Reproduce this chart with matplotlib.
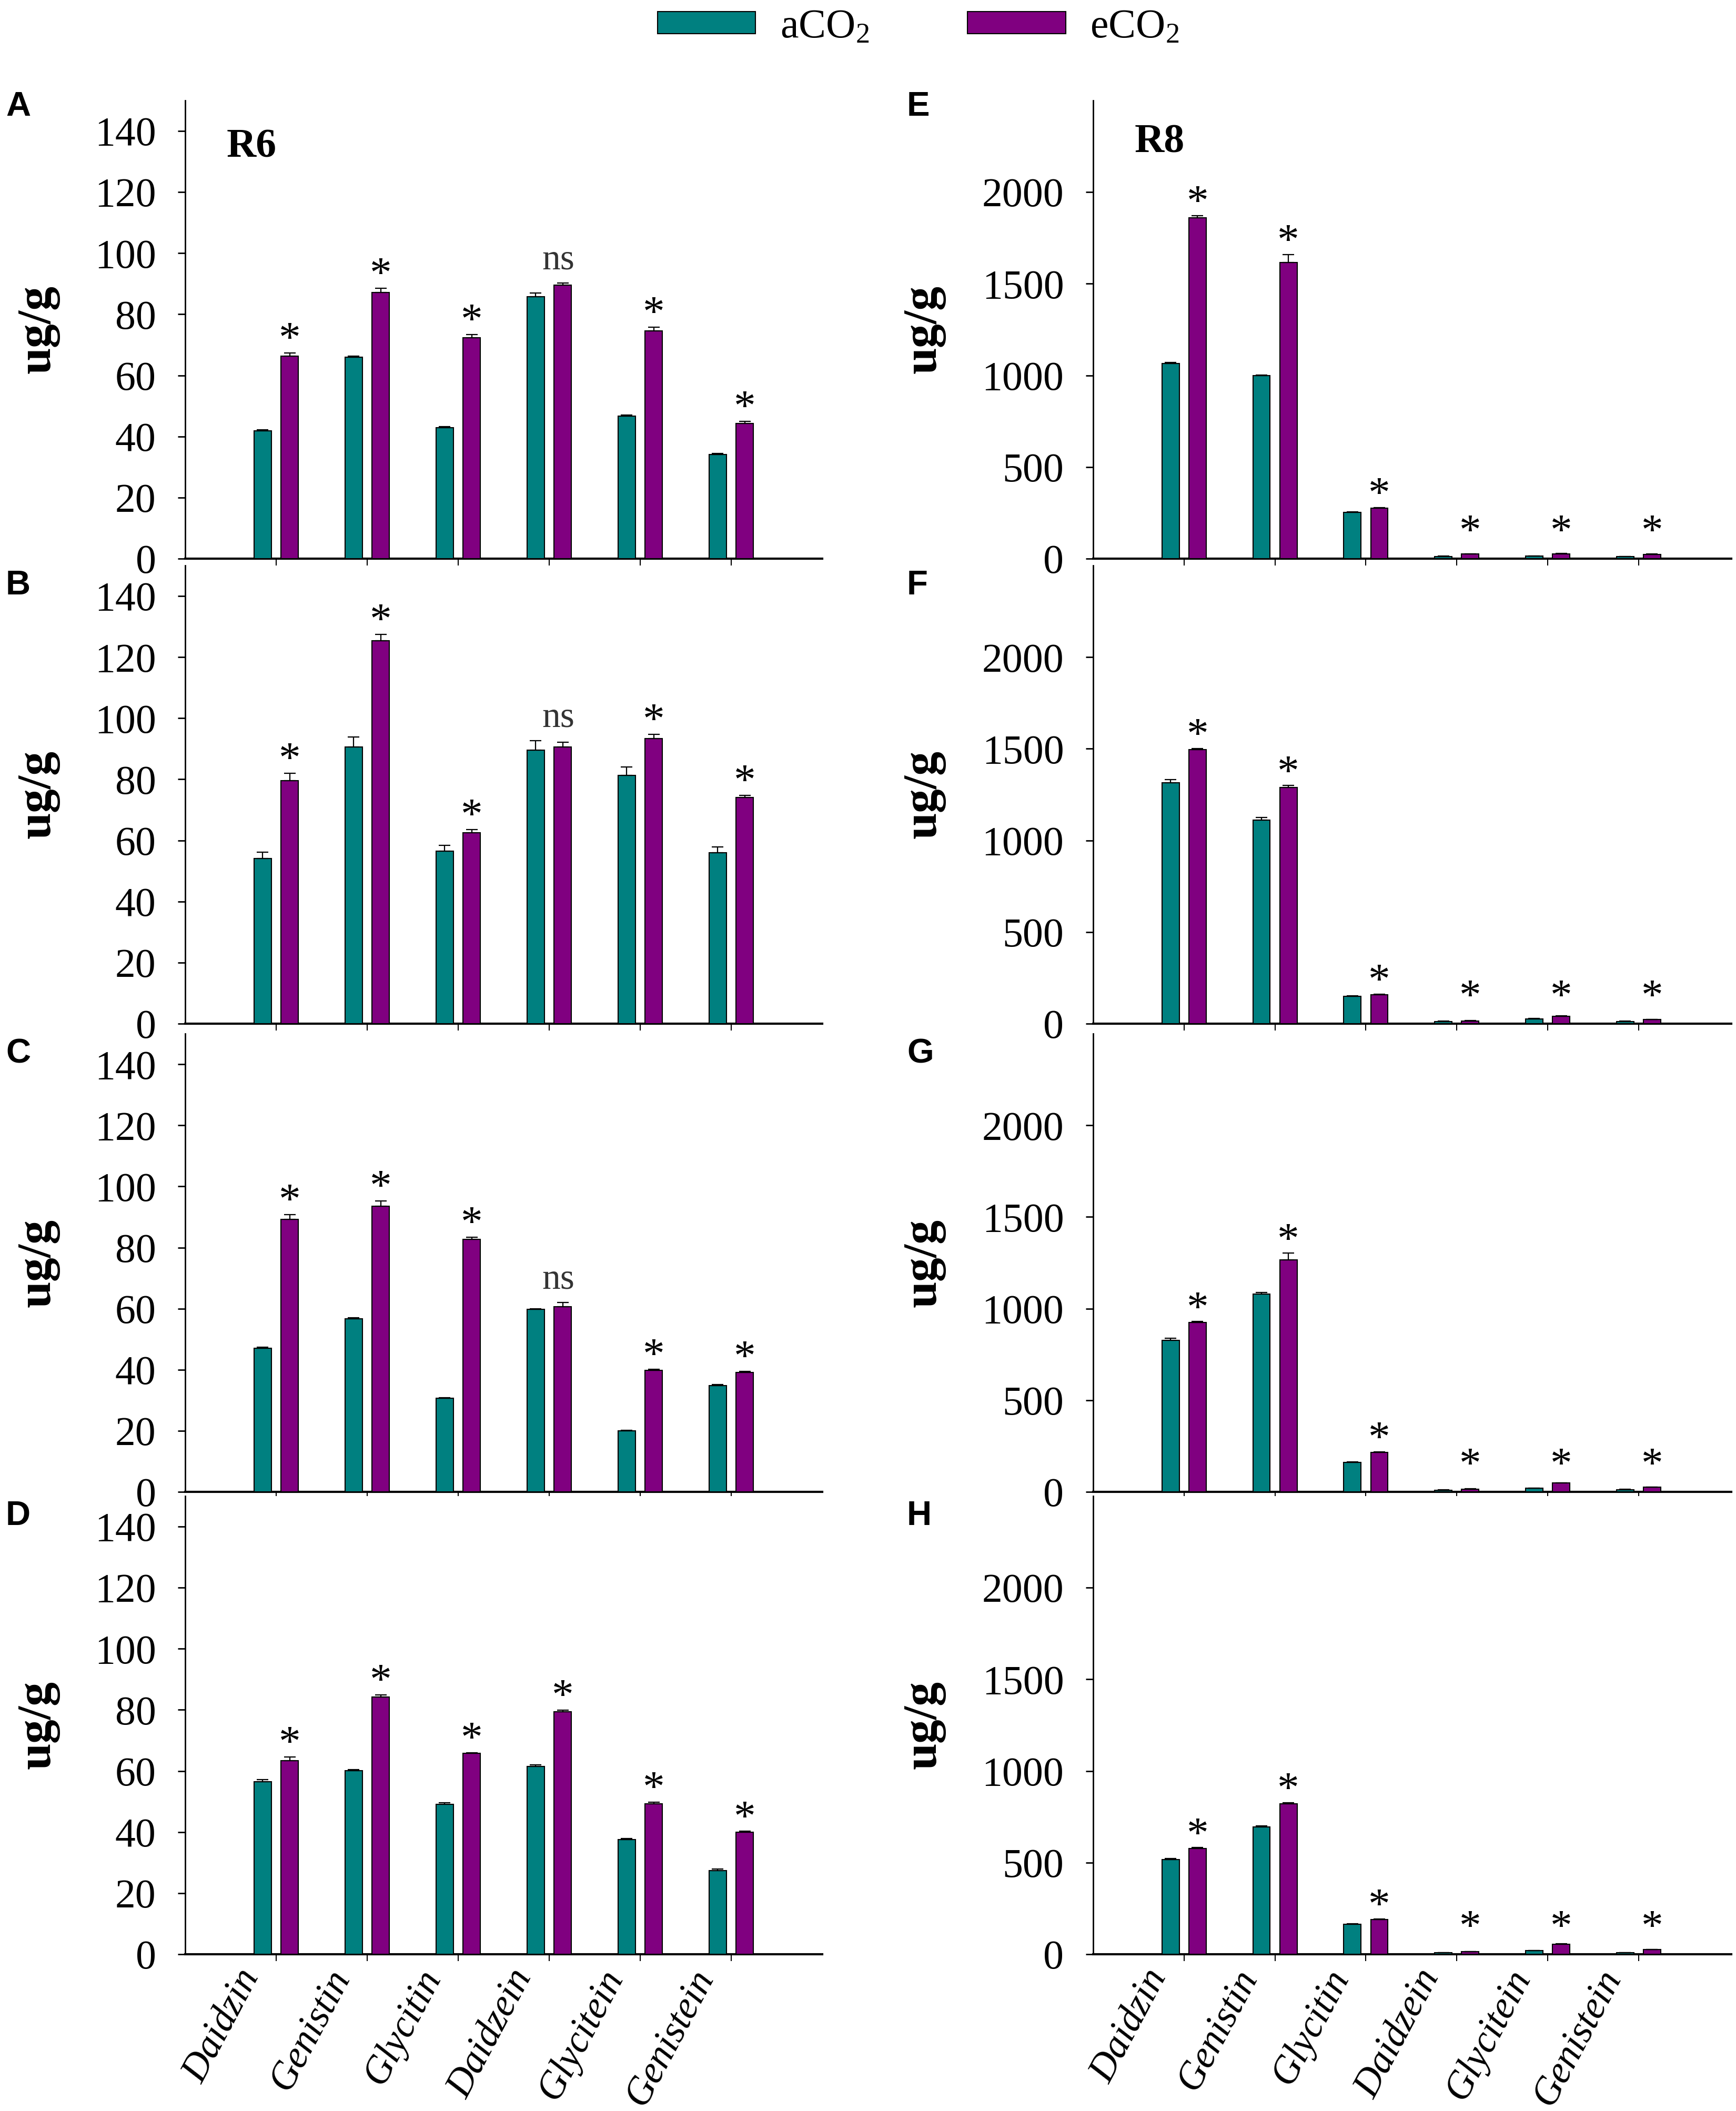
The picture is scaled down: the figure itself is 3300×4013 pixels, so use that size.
import numpy as np
import matplotlib
matplotlib.use('Agg')
import matplotlib.pyplot as plt
from matplotlib.transforms import ScaledTranslation

plt.rcParams['font.family'] = ['Liberation Serif', 'DejaVu Serif']
plt.rcParams['mathtext.fontset'] = 'custom'
plt.rcParams['mathtext.rm'] = 'Liberation Serif'

compounds = ['Daidzin', 'Genistin', 'Glycitin', 'Daidzein', 'Glycitein', 'Genistein']

# R6 (A-D), ug/g : means and upper error
a_A = [41.9, 66.0, 42.9, 85.8, 46.7, 34.1]
e_A = [66.3, 87.2, 72.3, 89.5, 74.6, 44.2]
aerr_A = [0.3, 0.3, 0.3, 1.1, 0.3, 0.3]
eerr_A = [1.0, 1.3, 1.1, 0.8, 1.2, 0.7]

a_B = [54.0, 90.6, 56.4, 89.6, 81.2, 55.9]
e_B = [79.6, 125.4, 62.5, 90.6, 93.4, 74.0]
aerr_B = [2.2, 3.2, 2.0, 3.1, 2.9, 2.0]
eerr_B = [2.4, 2.1, 1.1, 1.5, 1.3, 0.7]

a_C = [47.0, 56.7, 30.6, 59.7, 19.9, 34.8]
e_C = [89.3, 93.6, 82.7, 60.7, 39.8, 39.1]
aerr_C = [0.3, 0.3, 0.2, 0.3, 0.2, 0.3]
eerr_C = [1.5, 1.7, 0.7, 1.3, 0.4, 0.4]

a_D = [56.4, 60.1, 49.1, 61.4, 37.6, 27.4]
e_D = [63.3, 84.2, 65.7, 79.3, 49.3, 39.9]
aerr_D = [0.7, 0.4, 0.4, 0.5, 0.3, 0.4]
eerr_D = [1.2, 0.7, 0.3, 0.6, 0.4, 0.3]

# R8 (E-H)
a_E = [1066, 998, 252, 12, 14, 10]
e_E = [1859, 1616, 274, 24, 26, 22]
aerr_E = [5, 4, 3, 1, 1, 1]
eerr_E = [12, 44, 4, 2, 2, 2]

a_F = [1315, 1111, 149, 12, 26, 12]
e_F = [1495, 1290, 157, 15, 40, 23]
aerr_F = [17, 14, 3, 1, 1, 1]
eerr_F = [7, 9, 3, 1, 2, 1]

a_G = [827, 1078, 160, 10, 20, 12]
e_G = [924, 1266, 215, 15, 48, 26]
aerr_G = [10, 9, 3, 1, 1, 1]
eerr_G = [5, 36, 3, 1, 2, 1]

a_H = [515, 693, 163, 8, 20, 7]
e_H = [577, 822, 190, 13, 54, 25]
aerr_H = [8, 8, 3, 1, 1, 1]
eerr_H = [4, 5, 3, 1, 2, 1]

sig_ABC = ['*', '*', '*', 'ns', '*', '*']
sig_all = ['*', '*', '*', '*', '*', '*']

panels = [
    ('A', a_A, e_A, aerr_A, eerr_A, sig_ABC),
    ('B', a_B, e_B, aerr_B, eerr_B, sig_ABC),
    ('C', a_C, e_C, aerr_C, eerr_C, sig_ABC),
    ('D', a_D, e_D, aerr_D, eerr_D, sig_all),
    ('E', a_E, e_E, aerr_E, eerr_E, sig_all),
    ('F', a_F, e_F, aerr_F, eerr_F, sig_all),
    ('G', a_G, e_G, aerr_G, eerr_G, sig_all),
    ('H', a_H, e_H, aerr_H, eerr_H, sig_all),
]

teal = '#008080'
purple = '#800080'

fig = plt.figure(figsize=(33, 40.13), dpi=100)

bottoms = [0.7354, 0.5151, 0.2933, 0.0743]
height = 0.217
lefts = [0.1067, 0.6297]
widths = [0.3669, 0.3676]

x = np.arange(len(compounds))
w = 0.19
off = 0.148
err_kw = dict(ecolor='black', elinewidth=1.6, capsize=8, capthick=1.6)

handles = None
for k, (letter, a, e, aerr, eerr, sig) in enumerate(panels):
    col = k // 4
    row = k % 4
    ax = fig.add_axes([lefts[col], bottoms[row], widths[col], height])
    a = np.array(a, float)
    e = np.array(e, float)
    aerr = np.array(aerr, float)
    eerr = np.array(eerr, float)
    z = np.zeros_like(a)

    b1 = ax.bar(x - off, a, w, color=teal, edgecolor='black', linewidth=1.5,
                yerr=[z, aerr], error_kw=err_kw, zorder=3)
    b2 = ax.bar(x + off, e, w, color=purple, edgecolor='black', linewidth=1.5,
                yerr=[z, eerr], error_kw=err_kw, zorder=3)
    if handles is None:
        handles = [b1, b2]

    if col == 0:
        ax.set_ylim(0, 150)
        ax.set_yticks(np.arange(0, 141, 20))
    else:
        ax.set_ylim(0, 2500)
        ax.set_yticks(np.arange(0, 2001, 500))
    ax.set_xlim(-1, 6.02 if col else 6)

    for sp in ['top', 'right']:
        ax.spines[sp].set_visible(False)
    ax.spines['left'].set_linewidth(2)
    ax.spines['bottom'].set_linewidth(3)
    ax.tick_params(axis='y', direction='out', length=10, width=2, pad=30, labelsize=56)
    ax.tick_params(axis='x', direction='out', length=9, width=1.5, pad=4)

    if row == 3:
        ax.set_xticks(x, compounds, rotation=62, ha='right', va='top',
                      rotation_mode='anchor', fontstyle='italic', fontsize=53)
        shift = ScaledTranslation(-0.78, 0, fig.dpi_scale_trans)
        for lab in ax.get_xticklabels():
            lab.set_transform(lab.get_transform() + shift)
    else:
        ax.set_xticks(x, [''] * len(x))

    # significance marks
    for i in range(len(x)):
        top_a = a[i] + aerr[i]
        top_e = e[i] + eerr[i]
        if sig[i] == 'ns':
            ax.text(x[i] + 0.1, max(top_a, top_e) + 4.5, 'ns', ha='center',
                    va='baseline', fontsize=50, color='#333333')
        elif col == 0:
            ax.text(x[i] + off, top_e + 0.5, '*', ha='center', va='baseline', fontsize=60)
        else:
            ax.text(x[i] + off, max(top_e, 75) + 5, '*', ha='center', va='baseline', fontsize=60)

    if row == 0:
        ax.text(-0.545, 131.5 if col == 0 else 2218, 'R6' if col == 0 else 'R8',
                fontsize=56, fontweight='bold', va='baseline', ha='left')

    # panel letter and y label
    top = bottoms[row] + height
    lx = 11 / 3300 if col == 0 else 1724 / 3300
    fig.text(lx, top + (0.0045 if row == 0 else -0.002), letter,
             family=['Liberation Sans', 'DejaVu Sans'], fontweight='bold',
             fontsize=47, ha='left', va='top')
    yx = 73 / 3300 if col == 0 else 1757 / 3300
    fig.text(yx, bottoms[row] + height / 2, 'ug/g', rotation=90, ha='center',
             va='center', fontsize=66, fontweight='bold')

fig.legend(handles, [r'$\mathregular{aCO_2}$', r'$\mathregular{eCO_2}$'],
           loc='center', bbox_to_anchor=(0.529, 0.987), ncol=2, frameon=False,
           fontsize=56, handlelength=2.4, handleheight=0.45,
           handletextpad=0.6, columnspacing=2.4)

fig.savefig('out.png', dpi=100)
